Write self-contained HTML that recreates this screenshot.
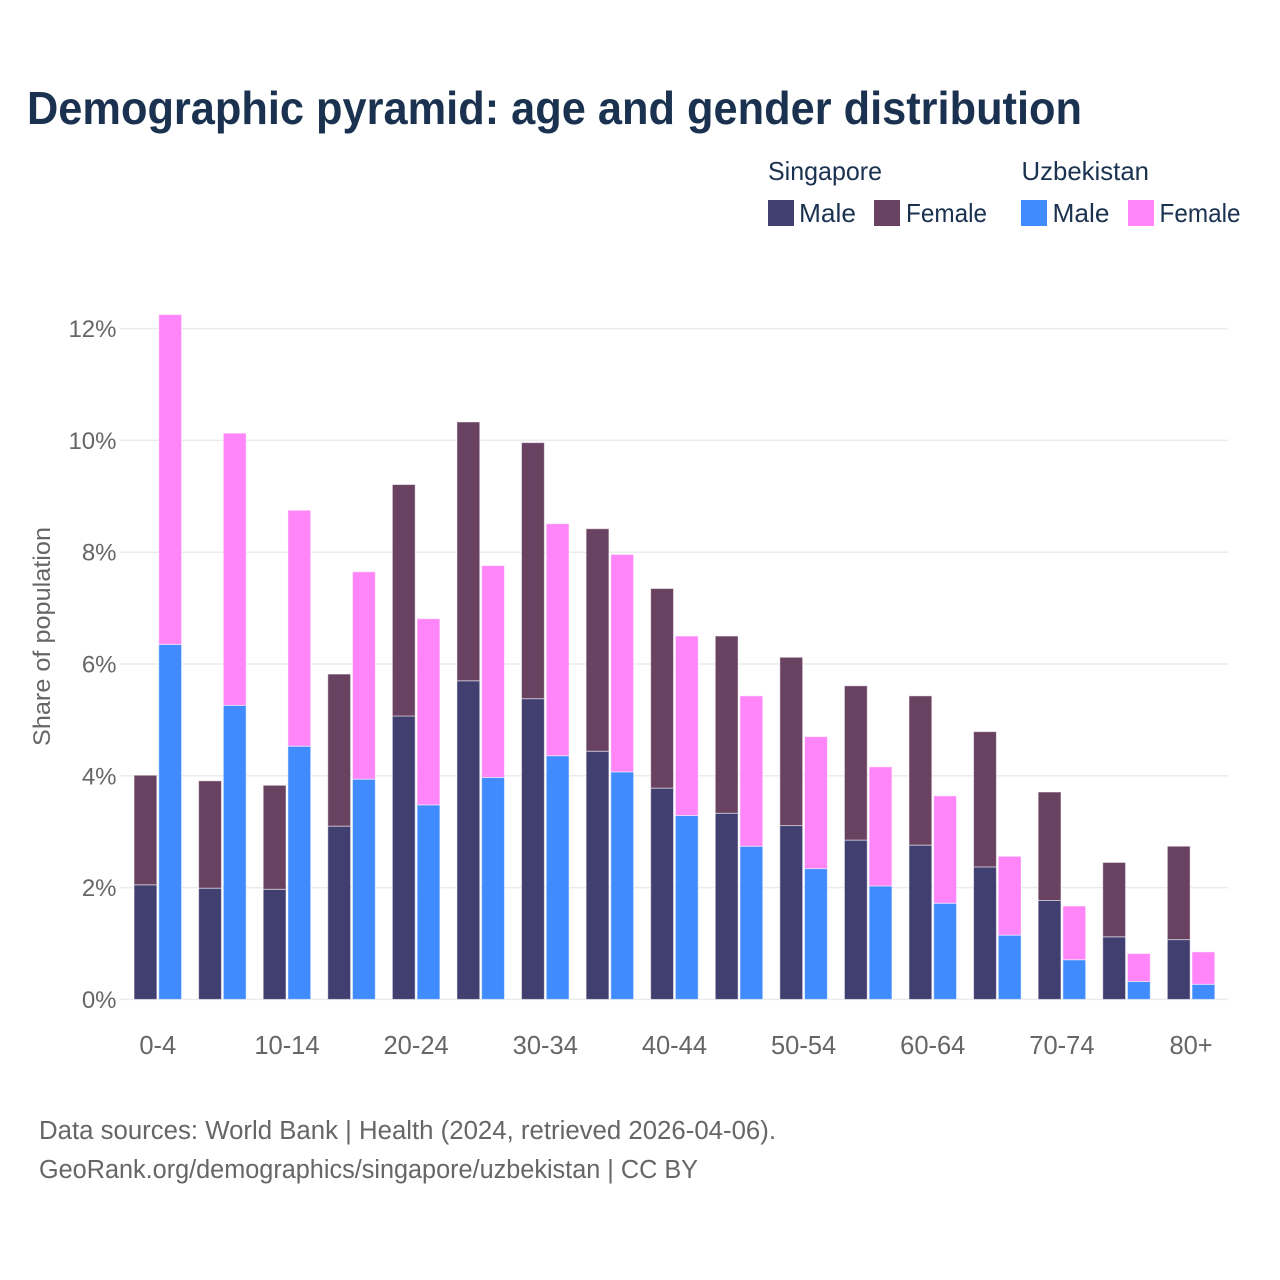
<!DOCTYPE html>
<html lang="en">
<head>
<meta charset="utf-8">
<title>Demographic pyramid</title>
<style>
  html, body { margin: 0; padding: 0; background: #fff; }
  svg { display: block; font-family: "Liberation Sans", sans-serif; }
</style>
</head>
<body>
<svg id="chart" xmlns="http://www.w3.org/2000/svg" width="1280" height="1280" viewBox="0 0 1280 1280">
  <rect x="0" y="0" width="1280" height="1280" fill="#ffffff"/>
  <text x="27" y="124" font-size="46" font-weight="700" fill="#1a3250" textLength="1055" lengthAdjust="spacingAndGlyphs">Demographic pyramid: age and gender distribution</text>

  <g font-size="26" fill="#1a3250">
    <text x="768" y="180" textLength="114" lengthAdjust="spacingAndGlyphs">Singapore</text>
    <text x="1021.5" y="180" textLength="127.5" lengthAdjust="spacingAndGlyphs">Uzbekistan</text>
    <rect x="768" y="200" width="26" height="26" fill="#413e70"/>
    <text x="799" y="222" textLength="57" lengthAdjust="spacingAndGlyphs">Male</text>
    <rect x="874" y="200" width="26" height="26" fill="#694161"/>
    <text x="906" y="222" textLength="81" lengthAdjust="spacingAndGlyphs">Female</text>
    <rect x="1021" y="200" width="26" height="26" fill="#408cff"/>
    <text x="1052.5" y="222" textLength="57" lengthAdjust="spacingAndGlyphs">Male</text>
    <rect x="1128" y="200" width="26" height="26" fill="#ff85f9"/>
    <text x="1159.5" y="222" textLength="81" lengthAdjust="spacingAndGlyphs">Female</text>
  </g>

  <g id="grid"></g>
  <g id="bars"></g>
  <g id="y-ticks"></g>
  <g id="x-ticks"></g>

  <text transform="translate(50,636.5) rotate(-90)" text-anchor="middle" font-size="24.5" fill="#666666" textLength="219" lengthAdjust="spacingAndGlyphs">Share of population</text>

  <text x="39" y="1139" font-size="25.5" fill="#666666" textLength="737" lengthAdjust="spacingAndGlyphs">Data sources: World Bank | Health (2024, retrieved 2026-04-06).</text>
  <text x="39" y="1178" font-size="25.5" fill="#666666" textLength="659" lengthAdjust="spacingAndGlyphs">GeoRank.org/demographics/singapore/uzbekistan | CC BY</text>
</svg>
<script>
const categories = ["0-4","5-9","10-14","15-19","20-24","25-29","30-34","35-39","40-44","45-49","50-54","55-59","60-64","65-69","70-74","75-79","80+"];
const xTickLabels = ["0-4","10-14","20-24","30-34","40-44","50-54","60-64","70-74","80+"];
const yTickValues = [0, 2, 4, 6, 8, 10, 12];
const singaporeMale = [2.05,1.99,1.97,3.10,5.07,5.70,5.38,4.44,3.78,3.33,3.11,2.85,2.76,2.37,1.77,1.12,1.07];
const singaporeFemale = [1.96,1.92,1.86,2.72,4.14,4.63,4.58,3.98,3.57,3.17,3.01,2.76,2.67,2.42,1.94,1.33,1.67];
const uzbekistanMale = [6.35,5.26,4.53,3.94,3.48,3.97,4.36,4.07,3.29,2.74,2.34,2.03,1.72,1.15,0.71,0.32,0.27];
const uzbekistanFemale = [5.90,4.87,4.22,3.71,3.33,3.79,4.15,3.89,3.21,2.69,2.36,2.13,1.92,1.41,0.96,0.50,0.58];

const SVG_NS = "http://www.w3.org/2000/svg";
const Y0 = 999.4, PX_PER_UNIT = 55.9;
const X0 = 157.8, BAND = 64.58, BAR_W = 22.8, BAR_OFFSET = 12.35;
function yScale(v) { return Y0 - v * PX_PER_UNIT; }
function xScale(i) { return X0 + i * BAND; }

const gridG = document.getElementById("grid");
const barsG = document.getElementById("bars");
const yTicksG = document.getElementById("y-ticks");
const xTicksG = document.getElementById("x-ticks");

yTickValues.forEach(function (t) {
  const line = document.createElementNS(SVG_NS, "line");
  
  
  line.setAttribute("x1", 120);
  line.setAttribute("x2", 1228);
  line.setAttribute("y1", yScale(t));
  line.setAttribute("y2", yScale(t));
  line.setAttribute("stroke", "#ebebeb");
  line.setAttribute("stroke-width", 1.5);
  gridG.appendChild(line);

  const label = document.createElementNS(SVG_NS, "text");
  
  
  label.setAttribute("x", 116.5);
  label.setAttribute("y", yScale(t) + 8.5);
  label.setAttribute("text-anchor", "end");
  label.setAttribute("font-size", 24);
  label.setAttribute("fill", "#666666");
  label.textContent = t + "%";
  yTicksG.appendChild(label);
});

function drawBar(x, base, value, color, name) {
  const r = document.createElementNS(SVG_NS, "rect");
  
  
  r.setAttribute("x", x - BAR_W / 2);
  r.setAttribute("y", yScale(base + value));
  r.setAttribute("width", BAR_W);
  r.setAttribute("height", value * PX_PER_UNIT);
  r.setAttribute("fill", color);
  r.setAttribute("stroke", "#ffffff");
  r.setAttribute("stroke-opacity", 0.5);
  r.setAttribute("stroke-width", 1);
  barsG.appendChild(r);
}

categories.forEach(function (c, i) {
  const xLeft = xScale(i) - BAR_OFFSET;
  const xRight = xScale(i) + BAR_OFFSET;
  drawBar(xLeft, 0, singaporeMale[i], "#413e70", "bar-singapore-male-" + c);
  drawBar(xLeft, singaporeMale[i], singaporeFemale[i], "#694161", "bar-singapore-female-" + c);
  drawBar(xRight, 0, uzbekistanMale[i], "#408cff", "bar-uzbekistan-male-" + c);
  drawBar(xRight, uzbekistanMale[i], uzbekistanFemale[i], "#ff85f9", "bar-uzbekistan-female-" + c);
});

xTickLabels.forEach(function (c) {
  const label = document.createElementNS(SVG_NS, "text");
  
  
  label.setAttribute("x", xScale(categories.indexOf(c)));
  label.setAttribute("y", 1054);
  label.setAttribute("text-anchor", "middle");
  label.setAttribute("font-size", 25.5);
  label.setAttribute("fill", "#666666");
  label.textContent = c;
  xTicksG.appendChild(label);
});
</script>
</body>
</html>
